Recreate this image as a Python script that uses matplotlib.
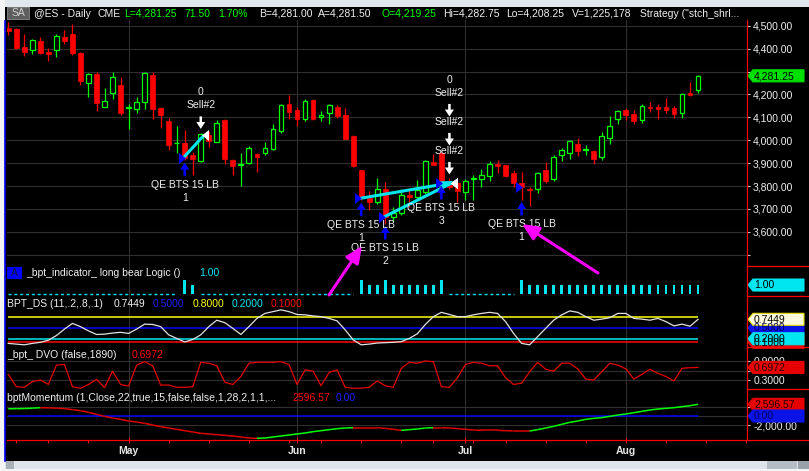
import numpy as np
import pandas as pd
import matplotlib
matplotlib.use("Agg")
import matplotlib.pyplot as plt
from matplotlib.collections import LineCollection
from matplotlib.patches import Polygon, Rectangle
from matplotlib.transforms import offset_copy

plt.rcParams['font.family'] = ['Liberation Sans', 'DejaVu Sans']

# ---------------- data ----------------
start_date = '2022-04-08'
holidays = ['2022-04-15', '2022-05-30', '2022-06-20', '2022-07-04', '2022-09-05']

opens = [4492, 4485, 4405, 4393, 4433, 4386, 4393, 4449, 4463, 4382,
         4251, 4289, 4143, 4208, 4239, 4140, 4137, 4165, 4284, 4140,
         4083, 3987, 3986, 3935, 3910, 4022, 3993, 4088, 3913, 3893,
         3901, 3940, 3942, 3960, 4040, 4160, 4134, 4091, 4175, 4102,
         4117, 4143, 4110, 4018, 3869, 3746, 3731, 3789, 3665, 3680,
         3760, 3750, 3775, 3906, 3945, 3823, 3815, 3772, 3830, 3830,
         3845, 3894, 3890, 3855, 3815, 3788, 3789, 3869, 3829, 3935,
         3945, 3983, 3958, 3952, 3927, 4010, 4092, 4131, 4114, 4088,
         4145, 4144, 4146, 4140, 4120, 4206, 4219.25]
highs = [4518, 4488, 4463, 4444, 4449, 4401, 4463, 4481, 4507, 4386,
         4294, 4296, 4230, 4296, 4274, 4160, 4190, 4299, 4296, 4143,
         4095, 4061, 4044, 3949, 4032, 4040, 4088, 4091, 3916, 3942,
         3974, 3945, 3993, 4069, 4160, 4197, 4146, 4178, 4182, 4127,
         4160, 4153, 4139, 4022, 3869, 3779, 3833, 3818, 3709, 3789,
         3789, 3826, 3913, 3938, 3949, 3833, 3818, 3830, 3847, 3874,
         3910, 3913, 3890, 3872, 3862, 3797, 3861, 3904, 3935, 3968,
         4000, 4008, 3981, 3957, 4037, 4105, 4134, 4139, 4134, 4160,
         4168, 4160, 4184, 4150, 4207, 4255, 4282.75]
lows = [4459, 4397, 4369, 4377, 4376, 4347, 4364, 4422, 4371, 4240,
        4190, 4128, 4143, 4178, 4109, 4051, 4120, 4137, 4092, 4054,
        3959, 3945, 3913, 3847, 3906, 3971, 3993, 3895, 3847, 3801,
        3896, 3862, 3935, 3957, 4032, 4092, 4063, 4085, 4088, 4085,
        4069, 4099, 4005, 3884, 3738, 3695, 3721, 3636, 3644, 3673,
        3709, 3741, 3767, 3891, 3811, 3789, 3731, 3738, 3738, 3797,
        3823, 3858, 3840, 3796, 3741, 3713, 3770, 3811, 3823, 3910,
        3917, 3930, 3935, 3898, 3913, 3983, 4070, 4088, 4069, 4076,
        4124, 4091, 4117, 4099, 4099, 4193, 4208.25]
closes = [4478, 4403, 4386, 4437, 4382, 4377, 4454, 4434, 4379, 4258,
          4289, 4163, 4172, 4277, 4120, 4146, 4165, 4294, 4136, 4109,
          3978, 3990, 3924, 3920, 4025, 3997, 4077, 3916, 3888, 3895,
          3964, 3925, 3968, 4051, 4153, 4124, 4091, 4171, 4094, 4112,
          4152, 4105, 4005, 3887, 3746, 3731, 3785, 3665, 3680, 3760,
          3753, 3782, 3909, 3891, 3814, 3794, 3779, 3821, 3834, 3847,
          3898, 3887, 3845, 3814, 3794, 3782, 3855, 3823, 3928, 3957,
          3996, 3954, 3961, 3916, 4018, 4064, 4127, 4110, 4083, 4149,
          4140, 4138, 4131, 4114, 4204, 4197, 4281.25]

# _bpt_indicator_ long bear Logic
logic_vals = [0, 0, 0, 0, 0, 0, 0, 0, 0, 0,
              0, 0, 0, 0, 0, 0, 0, 0, 0, 0,
              0, 0, 1.5, 1, 0, 0, 0, 0, 0, 0,
              0, 0, 0, 0, 0, 0, 0, 0, 0, 0,
              0, 0, 0, 0, 1.5, 1, 1, 1.5, 1, 1,
              1, 1, 1, 1, 1.5, 0, 0, 0, 0, 0,
              0, 0, 0, 0, 1.5, 1, 1, 1, 1, 1,
              1, 1, 1, 1, 1, 1, 1, 1, 1, 1,
              1, 1, 1, 1, 1, 1, 1]

ds_vals = [0.07, 0.05, 0.03, 0.07, 0.10, 0.16, 0.29, 0.47, 0.63, 0.54,
           0.42, 0.32, 0.33, 0.36, 0.38, 0.35, 0.47, 0.61, 0.60, 0.54,
           0.31, 0.21, 0.11, 0.18, 0.31, 0.54, 0.72, 0.65, 0.49, 0.32,
           0.54, 0.77, 0.91, 0.96, 1.01, 0.96, 0.88, 0.87, 0.84, 0.82,
           0.77, 0.70, 0.45, 0.17, 0.03, 0.05, 0.08, 0.09, 0.10, 0.12,
           0.21, 0.34, 0.60, 0.82, 0.94, 0.88, 0.82, 0.82, 0.87, 0.91,
           0.94, 0.91, 0.68, 0.35, 0.07, 0.03, 0.26, 0.49, 0.72, 0.87,
           0.98, 0.94, 0.82, 0.72, 0.75, 0.79, 0.91, 0.91, 0.77, 0.75,
           0.72, 0.77, 0.68, 0.56, 0.61, 0.55, 0.7449]
ds_levels = [0.8, 0.5, 0.2, 0.1]

dvo_vals = [0.48, 0.09, 0.07, 0.25, 0.30, 0.16, 0.77, 0.79, 0.09, 0.04,
            0.16, 0.32, 0.06, 0.58, 0.16, 0.11, 0.77, 0.88, 0.75, 0.14,
            0.14, 0.07, 0.07, 0.09, 0.86, 0.83, 0.75, 0.23, 0.16, 0.41,
            0.83, 0.86, 0.86, 0.86, 0.88, 0.79, 0.16, 0.62, 0.58, 0.12,
            0.54, 0.62, 0.07, 0.04, 0.04, 0.07, 0.27, 0.12, 0.07, 0.67,
            0.86, 0.83, 0.90, 0.88, 0.09, 0.07, 0.37, 0.79, 0.86, 0.83,
            0.75, 0.75, 0.37, 0.16, 0.20, 0.56, 0.86, 0.64, 0.58, 0.83,
            0.83, 0.65, 0.33, 0.30, 0.56, 0.83, 0.77, 0.65, 0.33, 0.48,
            0.64, 0.51, 0.41, 0.27, 0.67, 0.69, 0.6972]

mom_vals = [1600, 1630, 1660, 1741, 1852, 1815, 1741, 1630, 1407, 1185,
            815, 370, -74, -444, -741, -1111, -1333, -1630, -2000, -2370,
            -2667, -2963, -3259, -3556, -3852, -4000, -4148, -4296, -4444, -4667,
            -4889, -4963, -4889, -4667, -4444, -4222, -4000, -3778, -3481, -3259,
            -3037, -2815, -2667, -2593, -2593, -2593, -2593, -2741, -2963, -3185,
            -3037, -2889, -2667, -2593, -2593, -2667, -2815, -2963, -3111, -3185,
            -3185, -3185, -3259, -3333, -3333, -3333, -3037, -2667, -2296, -1852,
            -1407, -1111, -741, -519, -370, -74, 222, 444, 741, 1037,
            1333, 1556, 1704, 1852, 2074, 2296, 2596.57]

# trades
entry_bars = [22, 44, 47, 54, 64]
entry_tags = ['1', '1', '2', '3', '1']
exit_bars = [25, 56, 56, 56, None]
sell_bars = [24, 55]
sell_counts = [1, 3]

price_ticks = [3500, 3600, 3700, 3800, 3900, 4000, 4100, 4200, 4300, 4400, 4500]
price_hidden = [3500, 4300]          # no label drawn / covered by the last-price box
dvo_ticks = [0.3, 0.6, 0.9]
mom_ticks = [-2000, 0, 2000]

# ---------------- styling ----------------
W, H = 809, 471
RED = '#ff0000'
GREEN = '#00ff00'
CYAN = '#00e6f0'
BLUE = '#0000ff'
WHITE = '#f0f0f0'
GRID = '#2f2f2f'
MAGENTA = '#ff00ff'
FS = 7.5

o = np.array(opens, float)
h = np.array(highs, float)
l = np.array(lows, float)
c = np.array(closes, float)
idx = np.arange(len(c))

dates = pd.bdate_range(start_date, periods=100, freq='C', holidays=holidays)
month_pos = [i for i in range(1, 93) if dates[i].month != dates[i - 1].month]
week_pos = [i for i in range(1, 93)
            if dates[i].isocalendar()[1] != dates[i - 1].isocalendar()[1]]
month_names = [dates[i].strftime('%b') for i in month_pos]

fig = plt.figure(figsize=(W / 100, H / 100), dpi=100)
fig.patch.set_facecolor('black')


def add_panel(top, bottom, ylim):
    ax = fig.add_axes([7 / W, 1 - bottom / H, (747.3 - 7) / W, (bottom - top) / H])
    ax.set_facecolor('black')
    for sp in ax.spines.values():
        sp.set_visible(False)
    ax.set_xlim(-0.16, 92.14)
    ax.set_ylim(*ylim)
    ax.set_xticks(month_pos)
    ax.tick_params(axis='x', bottom=False, labelbottom=False)
    ax.yaxis.tick_right()
    ax.tick_params(axis='y', right=False, labelright=False)
    ax.grid(axis='x', color=GRID, lw=0.8)
    ax.set_axisbelow(True)
    return ax


def shifted(ax, dy):
    return offset_copy(ax.transData, fig=fig, x=0, y=dy, units='dots')


def right_labels(ax, ticks, labels):
    ax.set_yticks(ticks)
    ax.set_yticklabels(labels)
    ax.tick_params(axis='y', right=True, labelright=True, length=2.4, width=0.8,
                   color='#c8c8c8', labelcolor=WHITE, labelsize=FS, pad=1.8)
    ax.grid(axis='y', color=GRID, lw=0.8)


# ---- price panel ----
ax_p = add_panel(20, 265.7, (3452, 4525))
right_labels(ax_p, price_ticks,
             ['' if v in price_hidden else f'{v:,.2f}' for v in price_ticks])

up = c > o
body_lo = np.minimum(o, c)
body_hi = np.maximum(o, c)
body_h = np.maximum(body_hi - body_lo, 3)
wick_col = np.where(up, GREEN, RED)
ax_p.vlines(idx, body_hi, h, colors=wick_col, lw=0.9, zorder=2)
ax_p.vlines(idx, l, body_lo, colors=wick_col, lw=0.9, zorder=2)
ax_p.bar(idx[up], body_h[up], bottom=body_lo[up], width=0.6, facecolor='black',
         edgecolor=GREEN, linewidth=0.9, zorder=3)
ax_p.bar(idx[~up], body_h[~up], bottom=body_lo[~up], width=0.6, facecolor=RED,
         edgecolor=RED, linewidth=0.5, zorder=3)

tri_right = [(-1, -1.6), (1, 0), (-1, 1.6)]
tri_left = [(1, -1.6), (-1, 0), (1, 1.6)]
up_arrow = dict(arrowstyle='simple,head_length=0.5,head_width=0.65,tail_width=0.18',
                mutation_scale=10, shrinkA=0, shrinkB=0, lw=0)

for e, tag, x in zip(entry_bars, entry_tags, exit_bars):
    if x is not None:
        ax_p.plot([e - 0.15, x - 0.6], [c[e], o[x]], color=CYAN, lw=2.2,
                  solid_capstyle='butt', zorder=4)
for e, tag, x in zip(entry_bars, entry_tags, exit_bars):
    ax_p.plot(e - 0.35, c[e], marker=tri_right, ms=8, color=BLUE, mew=0, zorder=5)
    if x is not None:
        ax_p.plot(x - 0.45, o[x], marker=tri_left, ms=8, color='white', mew=0, zorder=5)
    ax_p.annotate('', xy=(e, l[e]), xycoords=shifted(ax_p, -2.5),
                  xytext=(e, l[e]), textcoords=shifted(ax_p, -16),
                  arrowprops=dict(up_arrow, color=BLUE), zorder=5)
    ax_p.text(e, l[e], 'QE BTS 15 LB', transform=shifted(ax_p, -24.5), ha='center',
              va='center', color=WHITE, fontsize=FS, clip_on=True, zorder=6)
    ax_p.text(e, l[e], tag, transform=shifted(ax_p, -37.5), ha='center',
              va='center', color=WHITE, fontsize=FS, clip_on=True, zorder=6)

for s_bar, cnt in zip(sell_bars, sell_counts):
    for k in range(cnt):
        b = 29 * k
        ax_p.annotate('', xy=(s_bar, h[s_bar]), xycoords=shifted(ax_p, 4 + b),
                      xytext=(s_bar, h[s_bar]), textcoords=shifted(ax_p, 16.5 + b),
                      arrowprops=dict(up_arrow, color='white'), zorder=5)
        ax_p.text(s_bar, h[s_bar], 'Sell#2', transform=shifted(ax_p, 27.5 + b),
                  ha='center', va='center', color=WHITE, fontsize=FS, zorder=6)
    ax_p.text(s_bar, h[s_bar], '0', transform=shifted(ax_p, 27.5 + 29 * (cnt - 1) + 13.3),
              ha='center', va='center', color=WHITE, fontsize=FS, zorder=6)

# ---- long bear logic panel ----
ax_i = add_panel(265.7, 296, (-0.18, 3.08))
logic = np.array(logic_vals, float)
ax_i.bar(idx, logic, width=0.36, color=CYAN, zorder=3)
ax_i.plot(idx, np.where(logic == 0, 0.0, np.nan), color=CYAN, lw=1,
          ls=(0, (2.2, 2)), zorder=3)

# ---- BPT_DS panel ----
ax_d = add_panel(296, 347, (-0.031, 1.398))
for lev, col in zip(ds_levels, ['#ffff00', BLUE, CYAN, RED]):
    ax_d.hlines(lev, idx[0], idx[-1], color=col, lw=1.1, zorder=2)
ax_d.plot(idx, ds_vals, color='#e2e2e2', lw=0.9, zorder=3)

# ---- DVO panel ----
ax_v = add_panel(347, 389.3, (0.007, 1.342))
right_labels(ax_v, dvo_ticks, ['' if v == 0.6 else f'{v:.4f}' for v in dvo_ticks])
ax_v.plot(idx, dvo_vals, color='#e60000', lw=0.9, zorder=3)

# ---- momentum panel ----
ax_m = add_panel(389.3, 440, (-5333, 5933))
right_labels(ax_m, mom_ticks, [f'{v:,.2f}' if v < 0 else '' for v in mom_ticks])
mom = np.array(mom_vals, float)
ax_m.hlines(0, idx[0], idx[-1], color=BLUE, lw=1.1, zorder=2)
pts = np.column_stack([idx, mom])
segs = np.stack([pts[:-1], pts[1:]], axis=1)
seg_cols = np.where(np.diff(mom) > 0, GREEN, '#e00000')
ax_m.add_collection(LineCollection(segs, colors=seg_cols, lw=1.1, zorder=3))
ax_m.set_xticks(week_pos, minor=True)
ax_m.set_xticklabels(month_names, fontweight='bold')
ax_m.tick_params(axis='x', which='major', bottom=True, labelbottom=True, direction='inout',
                 length=5, width=0.8, color=RED, labelcolor='#e6e6e6', labelsize=FS, pad=2)
ax_m.tick_params(axis='x', which='minor', bottom=True, direction='out',
                 length=2.4, width=0.8, color=RED)

# ---------------- overlay: frame, header, value boxes, notes ----------------
ov = fig.add_axes([0, 0, 1, 1], zorder=10)
ov.set_xlim(0, W)
ov.set_ylim(H, 0)
ov.axis('off')

ov.add_patch(Rectangle((0, 0), W, 6.5, color='#e2e7ee', lw=0))
ov.add_patch(Rectangle((0, 0), 5, H, color='#f4f4f4', lw=0))
ov.add_patch(Rectangle((0, 461), W, 10, color='#f4f4f4', lw=0))
ov.add_patch(Rectangle((5, 461), W - 5, 7.5, color='#dde4ec', lw=0))
ov.add_patch(Rectangle((6, 461), 8, 7.5, color='#a8b0b8', lw=0))
ov.add_patch(Rectangle((767, 461), 30, 7.5, color='#b4bcc6', lw=0))
ov.add_patch(Rectangle((798, 461), 11, 7.5, color='#98a0aa', lw=0))
ov.plot([5.5, 5.5], [21, 461], color='#0000ff', lw=1.2)
ov.plot([747.5, 747.5], [20, 440], color=RED, lw=0.9)
ov.plot([7, W], [440, 440], color=RED, lw=0.9)
for yy in [265.7, 296, 347, 389.3]:
    ov.plot([747.5, W], [yy, yy], color=RED, lw=0.9)

# header line
ov.add_patch(Rectangle((7.3, 7), 22, 12, facecolor='#5e5e5e', edgecolor='#8a8a8a', lw=0.6))
ov.text(18.3, 13.4, 'SA', color='#d0d0d0', fontsize=FS, ha='center', va='center')
header = [(34.3, '@ES - Daily', WHITE), (97.7, 'CME', WHITE), (124.3, 'L=4,281.25', GREEN),
          (184.3, '71.50', GREEN), (218.3, '1.70%', GREEN), (259.3, 'B=4,281.00', WHITE),
          (318.3, 'A=4,281.50', WHITE), (381.7, 'O=4,219.25', GREEN),
          (442.7, 'Hi=4,282.75', WHITE), (506, 'Lo=4,208.25', WHITE),
          (571.7, 'V=1,225,178', WHITE), (640, 'Strategy ("stch_shrl...', WHITE)]
for xx, txt, col in header:
    ov.text(xx, 13.6, txt, color=col, fontsize=FS, va='center')

# panel titles
ov.add_patch(Rectangle((7, 266.8), 15, 12, color='#0000ff', lw=0))
ov.text(14.5, 272.8, 'A', color='#101040', fontsize=FS, ha='center', va='center')
titles = [(26, 273.3, '_bpt_indicator_ long bear Logic ()', WHITE), (199, 273.3, '1.00', CYAN),
          (7, 304.3, 'BPT_DS (11,.2,.8,.1)', WHITE), (114, 304.3, '0.7449', WHITE),
          (153, 304.3, '0.5000', '#2020ff'), (193, 304.3, '0.8000', '#ffff00'),
          (232, 304.3, '0.2000', CYAN), (271, 304.3, '0.1000', RED),
          (7, 355, '_bpt_ DVO (false,1890)', WHITE), (132, 355, '0.6972', RED),
          (7, 398.3, 'bptMomentum (1,Close,22,true,15,false,false,1,28,2,1,1,...', WHITE),
          (292, 398.3, '2596.57', RED), (336, 398.3, '0.00', '#2020ff')]
for xx, yy, txt, col in titles:
    ov.text(xx, yy, txt, color=col, fontsize=FS, va='center')


def px_y(ax, v):
    return H - ax.transData.transform((0, v))[1]


def value_box(y, txt, face, tcol, edge=None):
    verts = [(748, y), (753, y - 6), (804, y - 6), (804, y + 6), (753, y + 6)]
    ov.add_patch(Polygon(verts, closed=True, facecolor=face,
                         edgecolor=edge if edge else face, lw=0.8))
    ov.text(754, y + 0.3, txt, color=tcol, fontsize=FS, va='center')


value_box(px_y(ax_p, c[-1]), f'{c[-1]:,.2f}', '#00e000', 'black')
value_box(px_y(ax_i, logic[-1]), f'{logic[-1]:.2f}', CYAN, 'black')
value_box(px_y(ax_d, ds_levels[3]), f'{ds_levels[3]:.4f}', '#e60000', '#200000')
value_box(px_y(ax_d, ds_levels[1]), f'{ds_levels[1]:.4f}', '#0a14e6', '#000060')
value_box(px_y(ax_d, ds_levels[2]), f'{ds_levels[2]:.4f}', CYAN, 'black')
value_box(px_y(ax_d, ds_vals[-1]), f'{ds_vals[-1]:.4f}', '#fdf9dc', 'black', '#e8e000')
value_box(px_y(ax_v, dvo_vals[-1]), f'{dvo_vals[-1]:.4f}', '#e60000', '#200000')
value_box(px_y(ax_m, mom[-1]), f'{mom[-1]:,.2f}', '#e60000', '#200000')
value_box(px_y(ax_m, 0), '0.00', '#0a14e6', '#000060')

# magenta pointer arrows
mag = dict(arrowstyle='-|>,head_length=1.0,head_width=0.45', mutation_scale=10,
           color=MAGENTA, lw=2.2, shrinkA=0, shrinkB=0)
ov.annotate('', xy=(362, 246), xytext=(329, 295), arrowprops=mag)
ov.annotate('', xy=(522, 224), xytext=(598, 273), arrowprops=mag)

fig.savefig('out.png', dpi=100, facecolor='black')
